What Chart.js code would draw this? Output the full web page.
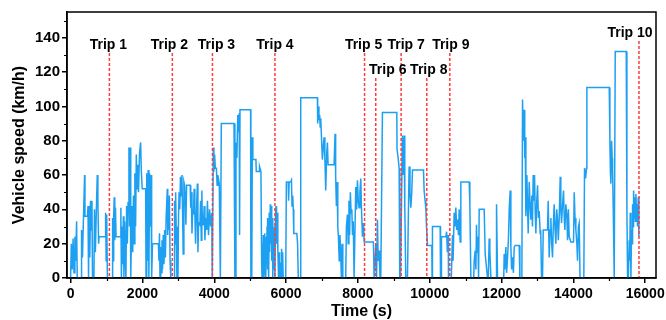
<!DOCTYPE html>
<html>
<head>
<meta charset="utf-8">
<script src="https://cdn.jsdelivr.net/npm/chart.js@4.4.0/dist/chart.umd.min.js"></script>
<style>
  html, body { margin: 0; padding: 0; background: #fff; }
</style>
</head>
<body>
<canvas id="speedChart" width="666" height="320"></canvas>
<script>
// speed trace: time (s) and vehicle speed (km/h)
const timeS = [
  0, 20, 45, 70, 95, 120, 140, 167, 185, 290,
  305, 330, 350, 390, 400, 470, 485, 500, 515, 535,
  555, 575, 595, 610, 650, 665, 690, 715, 743, 760,
  780, 795, 970, 975, 990, 1005, 1025, 1160, 1170, 1185,
  1200, 1215, 1230, 1250, 1265, 1390, 1400, 1415, 1435, 1450,
  1470, 1485, 1505, 1520, 1540, 1560, 1580, 1600, 1625, 1640,
  1660, 1675, 1695, 1710, 1730, 1750, 1770, 1790, 1810, 1830,
  1850, 1870, 1890, 1920, 1950, 1970, 1995, 2090, 2100, 2120,
  2140, 2160, 2180, 2200, 2220, 2240, 2257, 2280, 2445, 2460,
  2475, 2490, 2510, 2525, 2545, 2560, 2580, 2600, 2620, 2640,
  2660, 2693, 2705, 2720, 2735, 2750, 2770, 2790, 2880, 2895,
  2910, 2925, 2940, 2960, 2990, 3005, 3020, 3040, 3060, 3080,
  3100, 3115, 3135, 3155, 3175, 3195, 3210, 3230, 3330, 3345,
  3360, 3380, 3400, 3420, 3440, 3460, 3480, 3500, 3530, 3545,
  3565, 3600, 3620, 3640, 3655, 3670, 3700, 3720, 3740, 3760,
  3790, 3810, 3840, 3870, 3900, 3930, 3945, 3965, 3975, 3990,
  4010, 4030, 4060, 4080, 4100, 4140, 4170, 4185, 4197, 4550,
  4575, 4590, 4605, 4630, 4655, 4675, 4695, 4705, 4717, 5012,
  5020, 5045, 5061, 5075, 5160, 5170, 5250, 5260, 5300, 5320,
  5330, 5340, 5355, 5365, 5380, 5390, 5400, 5410, 5420, 5430,
  5440, 5450, 5460, 5470, 5480, 5490, 5500, 5510, 5520, 5530,
  5540, 5560, 5570, 5585, 5600, 5615, 5630, 5645, 5660, 5675,
  5690, 5705, 5720, 5735, 5750, 5770, 5790, 5805, 5820, 5840,
  5860, 5875, 5890, 5905, 5920, 5990, 6008, 6060, 6070, 6085,
  6130, 6150, 6165, 6185, 6200, 6215, 6300, 6320, 6340, 6390,
  6408, 6872, 6880, 6900, 6915, 6935, 6950, 6965, 7011, 7030,
  7058, 7080, 7104, 7130, 7151, 7170, 7336, 7364, 7380, 7401,
  7420, 7440, 7457, 7480, 7500, 7522, 7540, 7560, 7580, 7660,
  7680, 7708, 7730, 7750, 7770, 7790, 7810, 7830, 7850, 7870,
  7894, 7940, 7965, 7987, 8010, 8033, 8055, 8080, 8100, 8126,
  8154, 8175, 8432, 8451, 8470, 8500, 8520, 8544, 8565, 8590,
  8615, 8637, 8683, 9083, 9090, 9120, 9148, 9165, 9185, 9240,
  9265, 9287, 9305, 9333, 9380, 9400, 9426, 9450, 9473, 9500,
  9519, 9826, 9844, 9870, 9891, 9910, 9937, 10058, 10065, 10076,
  10290, 10300, 10318, 10327, 10448, 10470, 10490, 10515, 10522, 10600,
  10634, 10650, 10680, 10700, 10727, 10750, 10773, 10800, 10820, 10847,
  10866, 11098, 11117, 11145, 11225, 11237, 11265, 11285, 11302, 11320,
  11340, 11360, 11377, 11516, 11544, 11581, 11609, 11630, 11655, 11674,
  11702, 11845, 11860, 11888, 12060, 12073, 12090, 12119, 12140, 12166,
  12190, 12213, 12240, 12259, 12280, 12305, 12330, 12352, 12380, 12491,
  12510, 12565, 12584, 12600, 12630, 12645, 12658, 12677, 12705, 12725,
  12742, 12770, 12795, 12816, 12844, 12860, 12881, 12900, 12918, 12935,
  12955, 12980, 13002, 13025, 13048, 13076, 13090, 13113, 13140, 13160,
  13280, 13298, 13326, 13350, 13373, 13395, 13419, 13440, 13465, 13490,
  13512, 13535, 13558, 13580, 13605, 13633, 13650, 13670, 13698, 13725,
  13745, 13763, 13790, 13818, 13837, 13860, 13883, 13930, 14004, 14023,
  14045, 14069, 14097, 14115, 14140, 14162, 14185, 14290, 14310, 14340,
  14365, 14376, 14998, 15016, 15030, 15044, 15063, 15080, 15091, 15110,
  15118, 15137, 15155, 15165, 15471, 15490, 15509, 15530, 15555, 15570,
  15583, 15602, 15620, 15635, 15648, 15660, 15676, 15695, 15713, 15725,
  15741, 15755, 15769, 15785, 15806, 15824
];
const speedKmh = [
  0, 20, 5, 23, 3, 24, 10, 33, 0, 0,
  28, 12, 28, 60, 36, 36, 42, 0, 42, 12,
  45, 28, 45, 0, 0, 40, 15, 38, 60, 45,
  20, 24, 24, 38, 10, 37, 0, 0, 35, 10,
  36, 47, 22, 41, 24, 24, 41, 0, 30, 8,
  36, 0, 33, 15, 0, 42, 20, 44, 76, 30,
  76, 0, 25, 42, 15, 48, 20, 61, 30, 72,
  52, 66, 50, 73, 79, 62, 52, 52, 0, 61,
  10, 63, 0, 61, 30, 60, 0, 20, 20, 10,
  26, 0, 18, 3, 22, 5, 25, 8, 28, 12,
  35, 52, 25, 45, 28, 48, 10, 0, 0, 45,
  20, 50, 30, 0, 0, 35, 50, 40, 59, 48,
  60, 42, 14, 56, 54, 45, 31, 54, 54, 41,
  50, 26, 40, 37, 52, 37, 20, 36, 55, 15,
  32, 31, 45, 22, 51, 31, 31, 42, 22, 35,
  28, 45, 25, 40, 30, 38, 0, 0, 76, 62,
  72, 64, 64, 54, 60, 55, 0, 0, 90, 90,
  0, 0, 79, 70, 95, 85, 96, 25, 98, 98,
  0, 0, 82, 69, 69, 62, 62, 65, 62, 8,
  0, 20, 5, 25, 0, 22, 8, 26, 3, 20,
  0, 24, 10, 30, 5, 35, 12, 28, 0, 38,
  15, 43, 20, 42, 10, 35, 0, 28, 5, 30,
  0, 37, 42, 20, 38, 17, 0, 15, 0, 9,
  0, 17, 5, 15, 0, 0, 56, 56, 45, 56,
  56, 57, 42, 48, 40, 26, 26, 20, 0, 0,
  105, 105, 90, 100, 92, 95, 88, 93, 69, 75,
  82, 70, 51, 72, 79, 66, 66, 84, 60, 42,
  56, 30, 24, 10, 25, 14, 0, 20, 0, 0,
  30, 37, 20, 45, 25, 50, 38, 40, 25, 33,
  0, 53, 40, 57, 45, 41, 50, 58, 40, 24,
  32, 21, 21, 0, 0, 20, 0, 34, 10, 16,
  0, 0, 96.5, 96.5, 75, 70, 64, 0, 0, 83,
  60, 83, 43, 0, 0, 30, 65, 50, 41, 50,
  63, 63, 51, 45, 41, 30, 19, 19, 0, 30,
  30, 0, 0, 24, 24, 27, 15, 25, 0, 0,
  25, 10, 38, 30, 41, 28, 34, 25, 40, 21,
  56, 56, 43, 0, 0, 10, 16, 5, 31, 15,
  24, 0, 40, 40, 14, 6, 0, 0, 23, 16,
  0, 0, 43, 0, 0, 14, 5, 18, 3, 12,
  22, 40, 51, 18, 5, 12, 3, 18, 19, 19,
  0, 0, 104, 80, 98, 70, 82, 36, 60, 40,
  26, 56, 42, 34, 48, 30, 60, 45, 60, 40,
  26, 45, 54, 35, 39, 26, 28, 0, 0, 28,
  28, 45, 12, 28, 35, 20, 12, 30, 43, 28,
  20, 40, 34, 22, 35, 59, 40, 32, 43, 51,
  35, 28, 43, 36, 22, 40, 24, 21, 21, 50,
  35, 28, 20, 10, 30, 32, 0, 0, 64, 58,
  64, 111, 111, 80, 62, 55, 80, 70, 63, 40,
  28, 0, 0, 132, 132, 40, 0, 0, 22, 10,
  38, 0, 28, 20, 43, 30, 51, 35, 47, 33,
  49, 38, 43, 30, 47, 24
];

// trip boundaries (s)
const tripNames = ["Trip 1", "Trip 2", "Trip 3", "Trip 4", "Trip 5", "Trip 6", "Trip 7", "Trip 8", "Trip 9", "Trip 10"];
const tripTimes = [1080, 2833, 3950, 5690, 8185, 8497, 9203, 9918, 10559, 15826];

const xTicks = [0, 2000, 4000, 6000, 8000, 10000, 12000, 14000, 16000];
const yTicks = [0, 20, 40, 60, 80, 100, 120, 140];

const FONT = "'Liberation Sans', Arial, sans-serif";

// label placement for each trip: y of label centre, x shift, where dashed line starts
const tripLabelY = [45, 45, 45, 45, 45, 70, 45, 70, 45, 33];
const tripLabelDx = [-1, -3, 4, 0, -1, 12, 5, 2, 1, -9];
const tripLineTop = [53, 53, 53, 53, 53, 78, 53, 78, 53, 41];

const tripMarkers = {
  id: "tripMarkers",
  afterDatasetsDraw(chart) {
    const { ctx, chartArea, scales } = chart;
    const xs = scales.x, ys = scales.y;
    ctx.save();

    // minor ticks
    ctx.strokeStyle = "#000";
    ctx.lineWidth = 1.2;
    ctx.beginPath();
    for (let v = 10; v <= 150; v += 20) {
      const py = Math.round(ys.getPixelForValue(v)) + 0.5;
      ctx.moveTo(chartArea.left - 3, py);
      ctx.lineTo(chartArea.left, py);
    }
    for (let t = 1000; t <= 16000; t += 2000) {
      const px = Math.round(xs.getPixelForValue(t)) + 0.5;
      ctx.moveTo(px, chartArea.bottom);
      ctx.lineTo(px, chartArea.bottom + 3);
    }
    ctx.stroke();

    // dashed trip lines
    ctx.strokeStyle = "#ff3c3c";
    ctx.lineWidth = 1.5;
    ctx.setLineDash([3, 2]);
    tripTimes.forEach((t, i) => {
      const px = xs.getPixelForValue(t);
      ctx.beginPath();
      ctx.moveTo(px, tripLineTop[i]);
      ctx.lineTo(px, chartArea.bottom);
      ctx.stroke();
    });
    ctx.setLineDash([]);

    // trip labels
    ctx.font = "bold 14px " + FONT;
    ctx.fillStyle = "#000";
    ctx.textAlign = "center";
    ctx.textBaseline = "middle";
    tripNames.forEach((name, i) => {
      const px = xs.getPixelForValue(tripTimes[i]) + tripLabelDx[i];
      ctx.fillText(name, px, tripLabelY[i]);
    });

    // frame
    ctx.strokeStyle = "#000";
    ctx.lineWidth = 1.5;
    ctx.strokeRect(chartArea.left, chartArea.top, chartArea.right - chartArea.left, chartArea.bottom - chartArea.top);
    ctx.restore();
  }
};

const ctx = document.getElementById("speedChart").getContext("2d");

const speedChart = new Chart(ctx, {
  type: "line",
  data: {
    datasets: [
      {
        label: "Vehicle speed",
        data: timeS.map((t, i) => ({ x: t, y: speedKmh[i] })),
        borderColor: "#1ea0f2",
        borderWidth: 1.5,
        pointRadius: 0,
        tension: 0,
        fill: false,
      },
    ],
  },
  options: {
    responsive: false,
    animation: false,
    devicePixelRatio: 1,
    layout: { padding: { left: 0, right: 10, top: 12, bottom: 0 } },
    plugins: {
      legend: { display: false },
      tooltip: { enabled: false },
    },
    scales: {
      x: {
        type: "linear",
        min: -100,
        max: 16300,
        afterBuildTicks: (scale) => {
          scale.ticks = xTicks.map((v) => ({ value: v }));
        },
        afterFit: (scale) => {
          scale.height = 42;
          scale.paddingLeft = 0;
          scale.paddingRight = 0;
        },
        ticks: {
          color: "#000",
          font: { family: FONT, size: 14, weight: "bold" },
          padding: 3,
          maxRotation: 0,
          callback: (value) => String(value),
        },
        grid: {
          drawOnChartArea: false,
          color: "#000",
          lineWidth: 1.5,
          tickLength: 5,
        },
        border: { color: "#000", width: 1.5 },
        title: {
          display: true,
          text: "Time (s)",
          color: "#000",
          font: { family: FONT, size: 16, weight: "bold", lineHeight: 1 },
          padding: { top: 0.5, bottom: 0 },
        },
      },
      y: {
        min: 0,
        max: 155,
        afterBuildTicks: (scale) => {
          scale.ticks = yTicks.map((v) => ({ value: v }));
        },
        afterFit: (scale) => {
          scale.width = 67;
          scale.paddingTop = 0;
          scale.paddingBottom = 0;
        },
        ticks: {
          color: "#000",
          font: { family: FONT, size: 15, weight: "bold" },
          padding: 2,
          callback: (value) => String(value),
        },
        grid: {
          drawOnChartArea: false,
          color: "#000",
          lineWidth: 1.5,
          tickLength: 5,
        },
        border: { color: "#000", width: 1.5 },
        title: {
          display: true,
          text: "Vehicle speed (km/h)",
          color: "#000",
          font: { family: FONT, size: 16, weight: "bold" },
          padding: { top: 10, bottom: 0 },
        },
      },
    },
  },
  plugins: [tripMarkers],
});
</script>
</body>
</html>
